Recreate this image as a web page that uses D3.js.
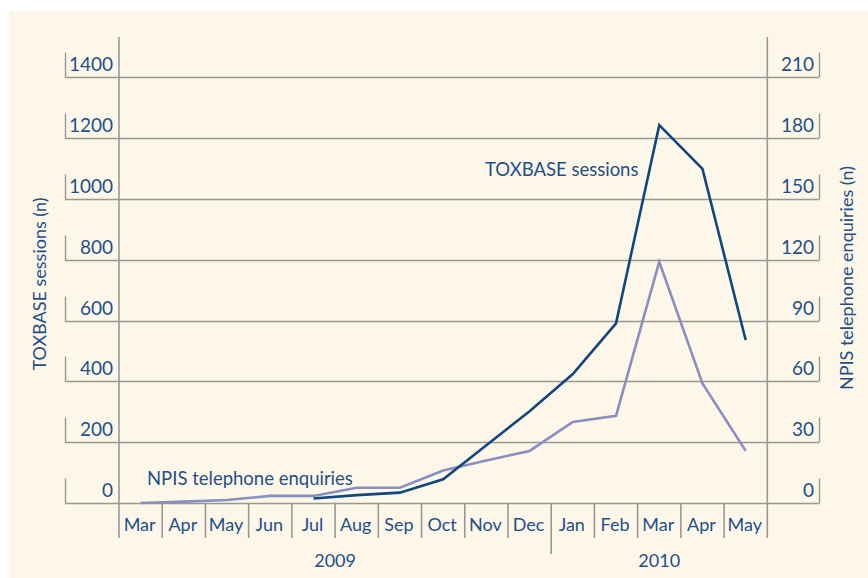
<!DOCTYPE html>
<html><head><meta charset="utf-8">
<script src="https://cdn.jsdelivr.net/npm/d3@7"></script>
<style>
html,body{margin:0;padding:0;background:#fff;}
svg{display:block;}
text{font-family:Lato, "Noto Sans", sans-serif;fill:#1f4f8a;}
</style></head><body>
<svg id="chart" width="868" height="578"></svg>
<script>
const months = ["Mar","Apr","May","Jun","Jul","Aug","Sep","Oct","Nov","Dec","Jan","Feb","Mar","Apr","May"];
const years = [{label:"2009", from:0, to:9},{label:"2010", from:10, to:14}];
const toxbase = [null,null,null,null,15,26,34,78,190,302,424,591,1243,1099,536];
const npis = [0,0.7,1.5,3.5,3.5,7.5,7.5,16,21,25.7,40,43,119,59,25.7];
const leftTicks = [0,200,400,600,800,1000,1200,1400];
const rightTicks = [0,30,60,90,120,150,180,210];

const svg = d3.select("#chart");
const L = 119, R = 767.3, T = 77.4, B = 503;
const gridColor = "#999894";
const darkColor = "#11467f";
const lightColor = "#8a8ec0";

svg.append("rect").attr("x",9).attr("y",11).attr("width",859).attr("height",567).attr("fill","#fdf7e9");

const x = d3.scaleBand().domain(d3.range(months.length)).range([L,R]);
const yL = d3.scaleLinear().domain([0,1400]).range([B,T]);
const yR = d3.scaleLinear().domain([0,210]).range([B,T]);

const g = svg.append("g");
leftTicks.forEach(v=>{
  const y = Math.round(yL(v))+0.5;
  g.append("line").attr("x1",65).attr("x2",819).attr("y1",y).attr("y2",y).attr("stroke",gridColor).attr("stroke-width",1.6);
  g.append("line").attr("x1",65.5).attr("x2",65.5).attr("y1",y-25).attr("y2",y).attr("stroke",gridColor).attr("stroke-width",1.4);
  g.append("text").attr("x",113).attr("y",y-7).attr("text-anchor","end").attr("font-size",19).text(v);
});
rightTicks.forEach(v=>{
  const y = Math.round(yR(v))+0.5;
  g.append("line").attr("x1",819.5).attr("x2",819.5).attr("y1",y-25).attr("y2",y).attr("stroke",gridColor).attr("stroke-width",1.4);
  g.append("text").attr("x",814).attr("y",y-7).attr("text-anchor","end").attr("font-size",19).text(v);
});
g.append("line").attr("x1",L).attr("x2",L).attr("y1",37).attr("y2",538).attr("stroke",gridColor).attr("stroke-width",1.6);
g.append("line").attr("x1",R).attr("x2",R).attr("y1",37).attr("y2",538).attr("stroke",gridColor).attr("stroke-width",1.6);
months.forEach((m,i)=>{
  const xs = x(i);
  if(i>0){
    g.append("line").attr("x1",xs).attr("x2",xs).attr("y1",B).attr("y2", i===10?554:538).attr("stroke",gridColor).attr("stroke-width",1.6);
  }
  g.append("text").attr("x",xs+x.bandwidth()/2-1).attr("y",531).attr("text-anchor","middle").attr("font-size",18).text(m);
});
years.forEach(yy=>{
  const cx = (x(yy.from)+x(yy.to)+x.bandwidth())/2;
  g.append("text").attr("x",cx).attr("y",567).attr("text-anchor","middle").attr("font-size",18).text(yy.label);
});

g.append("text").attr("transform","translate(46,284) rotate(-90)").attr("text-anchor","middle").attr("font-size",18).text("TOXBASE sessions (n)");
g.append("text").attr("transform","translate(853,278) rotate(-90)").attr("text-anchor","middle").attr("font-size",18).text("NPIS telephone enquiries (n)");

const cx = i => x(i)+x.bandwidth()/2;
const lineL = d3.line().defined(d=>d!=null).x((d,i)=>cx(i)).y(d=>yL(d));
const lineR = d3.line().x((d,i)=>cx(i)).y(d=>yR(d));
g.append("path").attr("d",lineR(npis)).attr("fill","none").attr("stroke",lightColor).attr("stroke-width",2.6);
g.append("path").attr("d",lineL(toxbase)).attr("fill","none").attr("stroke",darkColor).attr("stroke-width",2.6);

g.append("text").attr("x",485).attr("y",176).attr("font-size",18.5).text("TOXBASE sessions");
g.append("text").attr("x",147).attr("y",485).attr("font-size",18.5).text("NPIS telephone enquiries");
</script></body></html>
